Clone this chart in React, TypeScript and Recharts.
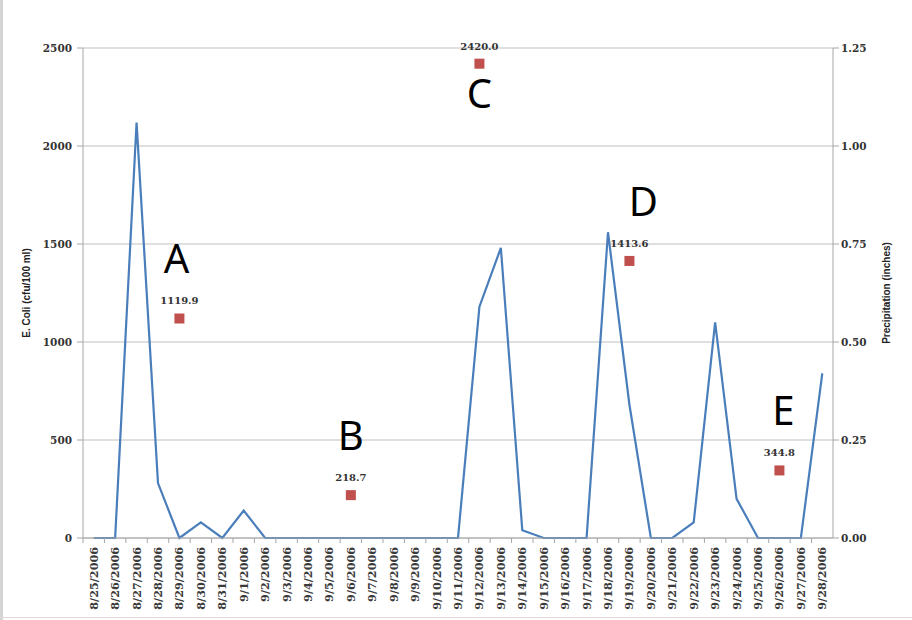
import React from "react";
import {
  ComposedChart,
  Line,
  Scatter,
  XAxis,
  YAxis,
  CartesianGrid,
} from "recharts";

const dates = [
  "8/25/2006", "8/26/2006", "8/27/2006", "8/28/2006", "8/29/2006", "8/30/2006", "8/31/2006",
  "9/1/2006", "9/2/2006", "9/3/2006", "9/4/2006", "9/5/2006", "9/6/2006", "9/7/2006",
  "9/8/2006", "9/9/2006", "9/10/2006", "9/11/2006", "9/12/2006", "9/13/2006", "9/14/2006",
  "9/15/2006", "9/16/2006", "9/17/2006", "9/18/2006", "9/19/2006", "9/20/2006", "9/21/2006",
  "9/22/2006", "9/23/2006", "9/24/2006", "9/25/2006", "9/26/2006", "9/27/2006", "9/28/2006",
];

// precipitation in inches, one per date
const precipitation = [
  0, 0, 1.06, 0.14, 0, 0.04, 0,
  0.07, 0, 0, 0, 0, 0, 0,
  0, 0, 0, 0, 0.59, 0.74, 0.02,
  0, 0, 0, 0.78, 0.34, 0, 0,
  0.04, 0.55, 0.1, 0, 0, 0, 0.42,
];

const sampleDates = ["8/29/2006", "9/6/2006", "9/12/2006", "9/19/2006", "9/26/2006"];
const ecoliValues = [1119.9, 218.7, 2420.0, 1413.6, 344.8];
const sampleLetters = ["A", "B", "C", "D", "E"];

const leftTicks = [0, 500, 1000, 1500, 2000, 2500];
const rightTicks = [0, 0.25, 0.5, 0.75, 1.0, 1.25];

const chartData = dates.map((d, i) => {
  const k = sampleDates.indexOf(d);
  return {
    date: d,
    precip: precipitation[i],
    ecoli: k >= 0 ? ecoliValues[k] : null,
    letter: k >= 0 ? sampleLetters[k] : null,
  };
});

const AXIS = "#a6a6a6";
const TICK_FONT = "DejaVu Serif";
const letterNudge: Record<string, number> = { A: -3, D: 14, E: 4 };

function DateTick(props: any) {
  const { x, y, payload } = props;
  const half = 750 / dates.length / 2;
  return (
    <g transform={`translate(${x},${y})`}>
      <line x1={-half} x2={-half} y1={0} y2={5} stroke={AXIS} />
      <text
        transform="rotate(-90)"
        x={-9}
        y={0}
        dy="0.36em"
        textAnchor="end"
        fontFamily={TICK_FONT}
        fontWeight="bold"
        fontSize={11.2}
        fill="#3a3a3a"
      >
        {payload.value}
      </text>
    </g>
  );
}

function SampleMark(props: any) {
  const { cx, cy, payload } = props;
  if (!payload || payload.ecoli == null) return null;
  if (!Number.isFinite(cx) || !Number.isFinite(cy)) return null;
  const below = cy < 100;
  const dx = letterNudge[payload.letter] ?? 0;
  return (
    <g>
      <rect x={cx - 5} y={cy - 5} width={10} height={10} fill="#c0504d" />
      <text
        x={cx}
        y={cy - 14}
        textAnchor="middle"
        fontFamily={TICK_FONT}
        fontWeight="bold"
        fontSize={10}
        fill="#333"
      >
        {payload.ecoli.toFixed(1)}
      </text>
      <text
        x={cx + dx}
        y={below ? cy + 44 : cy - 45}
        textAnchor="middle"
        fontFamily="Noto Sans"
        fontSize={40}
        fill="#000"
      >
        {payload.letter}
      </text>
    </g>
  );
}

export default function App() {
  return (
    <div
      style={{
        position: "absolute",
        left: 0,
        top: 0,
        width: 912,
        height: 620,
        background: "#fff",
        overflow: "hidden",
      }}
    >
      <ComposedChart
        width={912}
        height={620}
        data={chartData}
        margin={{ top: 48, right: 0, bottom: 0, left: 0 }}
      >
        <CartesianGrid yAxisId="left" vertical={false} stroke="#bfbfbf" />
        <XAxis
          dataKey="date"
          scale="band"
          height={82}
          interval={0}
          tickSize={0}
          tickMargin={0}
          stroke={AXIS}
          tick={<DateTick />}
        />
        <YAxis
          yAxisId="left"
          width={83}
          domain={[0, 2500]}
          ticks={leftTicks}
          stroke={AXIS}
          tickMargin={5}
          tick={{ fill: "#333", fontFamily: TICK_FONT, fontWeight: "bold", fontSize: 10.5 }}
          label={{
            value: "E. Coli (cfu/100 ml)",
            angle: -90,
            position: "insideLeft",
            offset: 26,
            style: {
              textAnchor: "middle",
              fontFamily: "Liberation Sans",
              fontWeight: "bold",
              fontSize: 10,
              fill: "#222",
            },
          }}
        />
        <YAxis
          yAxisId="right"
          orientation="right"
          width={79}
          domain={[0, 1.25]}
          ticks={rightTicks}
          stroke={AXIS}
          tickFormatter={(v: number) => v.toFixed(2)}
          tick={{ fill: "#333", fontFamily: TICK_FONT, fontWeight: "bold", fontSize: 10.5 }}
          label={{
            value: "Precipitation (inches)",
            angle: -90,
            position: "insideRight",
            offset: 26,
            style: {
              textAnchor: "middle",
              fontFamily: "Liberation Sans",
              fontWeight: "bold",
              fontSize: 10,
              fill: "#222",
            },
          }}
        />
        <Line
          yAxisId="right"
          type="linear"
          dataKey="precip"
          stroke="#4a7ebb"
          strokeWidth={2.2}
          dot={false}
          isAnimationActive={false}
        />
        <Scatter
          yAxisId="left"
          dataKey="ecoli"
          shape={<SampleMark />}
          isAnimationActive={false}
        />
      </ComposedChart>
      <div
        style={{
          position: "absolute",
          left: 0,
          top: 0,
          width: 3,
          height: 620,
          background: "#d4d4d4",
        }}
      />
      <div
        style={{
          position: "absolute",
          left: 0,
          top: 617,
          width: 912,
          height: 1,
          background: "#d9d9d9",
        }}
      />
    </div>
  );
}
